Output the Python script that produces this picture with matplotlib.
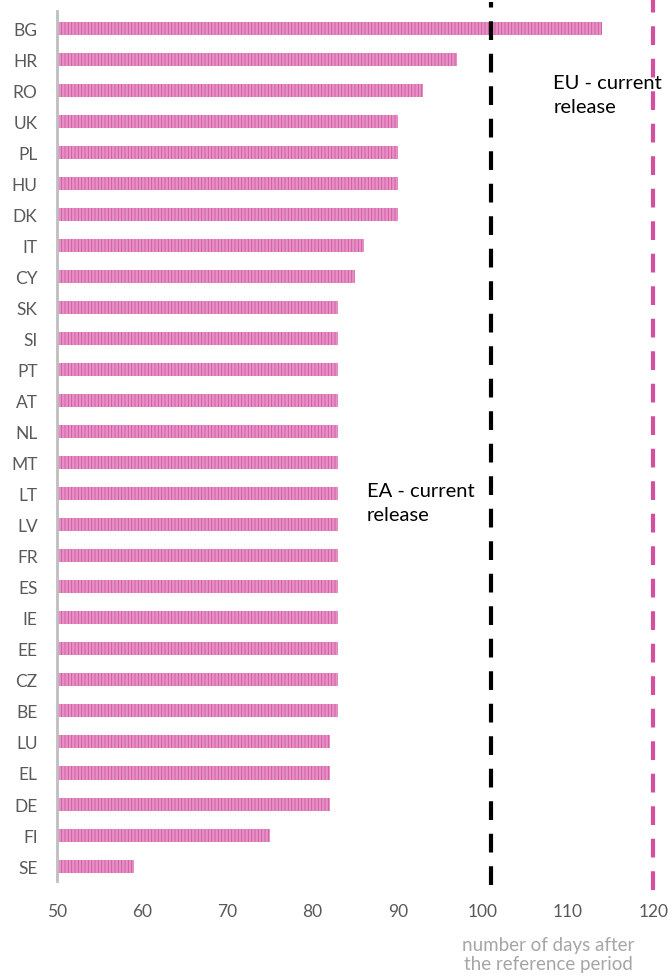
import matplotlib
matplotlib.use("Agg")
import matplotlib.pyplot as plt

# data
countries = ["BG", "HR", "RO", "UK", "PL", "HU", "DK", "IT", "CY", "SK",
             "SI", "PT", "AT", "NL", "MT", "LT", "LV", "FR", "ES", "IE",
             "EE", "CZ", "BE", "LU", "EL", "DE", "FI", "SE"]
days = [114, 97, 93, 90, 90, 90, 90, 86, 85, 83,
        83, 83, 83, 83, 83, 83, 83, 83, 83, 83,
        83, 83, 83, 82, 82, 82, 75, 59]
ea_release = 101
eu_release = 120
x_ticks = [50, 60, 70, 80, 90, 100, 110, 120]

plt.rcParams["font.family"] = ["Lato", "DejaVu Sans"]
plt.rcParams["hatch.linewidth"] = 0.6

fig = plt.figure(figsize=(6.72, 9.78), dpi=100)
ax = fig.add_axes([57 / 672, 96 / 978, 609 / 672, 870 / 978])

ypos = list(range(len(countries)))
widths = [d - 50 for d in days]
ax.barh(ypos, widths, left=50, height=0.42, color="#e691c6",
        hatch="|||||", edgecolor="#d2559f", linewidth=0)

ax.axvline(ea_release, ymin=-0.005, ymax=1.01, color="black", lw=3,
           dashes=(4.5, 3.3), clip_on=False)
ax.axvline(eu_release, ymin=-0.01, ymax=1.015, color="#d44f9f", lw=3,
           dashes=(4.5, 3.3), clip_on=False)

ax.text(86.4, 15.3, "EA - current\nrelease", fontsize=14.5, color="black",
        va="center", ha="left", linespacing=1.5)
ax.text(108.25, 2.13, "EU - current\nrelease", fontsize=14.5, color="black",
        va="center", ha="left", linespacing=1.5)

ax.set_xlim(50, 121.5)
ax.set_ylim(27.48, -0.55)
ax.set_yticks(ypos)
ax.set_yticklabels(countries)
ax.set_xticks(x_ticks)

for s in ["top", "right", "bottom"]:
    ax.spines[s].set_visible(False)
ax.spines["left"].set_color("#bfbfbf")
ax.spines["left"].set_linewidth(2)

ax.tick_params(axis="both", length=0, labelsize=12.5, labelcolor="#595959")
ax.tick_params(axis="y", pad=14)
ax.tick_params(axis="x", pad=16)

fig.text(548 / 672, 1 - 955 / 978, "number of days after\nthe reference period",
         fontsize=13.5, color="#a6a6a6", ha="center", va="center", linespacing=1.1)

fig.savefig("out.png", dpi=100)
